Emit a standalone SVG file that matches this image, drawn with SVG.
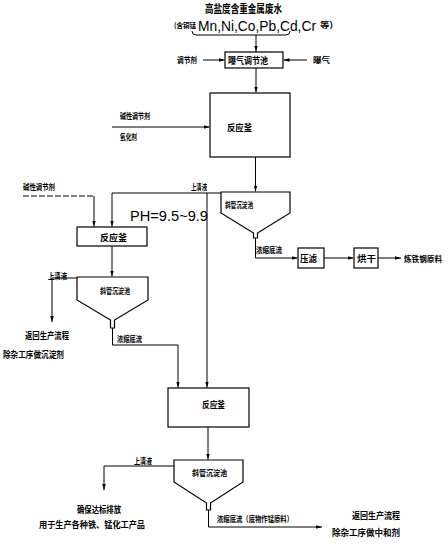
<svg xmlns="http://www.w3.org/2000/svg" width="448" height="551" viewBox="0 0 448 551">
<style>
.l{fill:none;stroke:#000;stroke-width:1}
.b{fill:#fff;stroke:#000;stroke-width:1.2}
.t{font-family:"Noto Sans CJK SC","Noto Sans CJK JP",sans-serif;font-size:9px;font-weight:bold;fill:#000}
.s{font-size:8px}
.p{font-family:"Liberation Sans",Arial,sans-serif;font-size:15px;fill:#000}
</style>
<defs>
<marker id="a" viewBox="0 0 10 6" refX="10" refY="3" markerWidth="6" markerHeight="3.6" orient="auto"><path d="M0,0 L10,3 L0,6 Z"/></marker>
</defs>
<rect width="448" height="551" fill="#fff"/>

<g id="source">
<text class="t" x="205" y="13" textLength="77" lengthAdjust="spacingAndGlyphs" style="font-size:11px">高盐度含重金属废水</text>
<text class="t" x="174" y="28" textLength="22" lengthAdjust="spacingAndGlyphs" style="font-size:7px">(含铜锰</text>
<text class="p" x="198" y="31" textLength="118" lengthAdjust="spacingAndGlyphs" style="font-size:14px">Mn,Ni,Co,Pb,Cd,Cr</text>
<text class="t" x="320" y="28" textLength="13" lengthAdjust="spacingAndGlyphs" style="font-size:8px">等)</text>
</g>
<g id="aeration">
<rect class="b" x="225" y="52" width="58" height="16"/>
<text class="t" x="228" y="63.5" textLength="40" lengthAdjust="spacingAndGlyphs">曝气调节池</text>
</g>
<g id="reactor1">
<rect class="b" x="210" y="93" width="80" height="64"/>
<text class="t" x="227" y="130.5" textLength="25" lengthAdjust="spacingAndGlyphs">反应釜</text>
</g>
<g id="tank1">
<path class="b" d="M221,192 H290 V213 L257.5,233 V238 H253.5 V233 L221,213 Z"/>
<text class="t s" x="225" y="208" textLength="28" lengthAdjust="spacingAndGlyphs">斜管沉淀池</text>
</g>
<g id="press">
<rect class="b" x="298" y="248" width="26" height="20"/>
<text class="t" x="300" y="261.5" textLength="17" lengthAdjust="spacingAndGlyphs">压滤</text>
</g>
<g id="dry">
<rect class="b" x="354" y="248" width="24" height="20"/>
<text class="t" x="357" y="261.5" textLength="19" lengthAdjust="spacingAndGlyphs">烘干</text>
</g>
<g id="product1">
<text class="t" x="404" y="261.5" textLength="38" lengthAdjust="spacingAndGlyphs" style="font-size:8px">炼铁钢原料</text>
</g>
<g id="reactor2">
<rect class="b" x="77" y="227" width="70" height="19"/>
<text class="t" x="100" y="240.5" textLength="27" lengthAdjust="spacingAndGlyphs">反应釜</text>
</g>
<g id="tank2">
<path class="b" d="M77,277 H148 V300 L114.5,320 V328 H110.5 V320 L77,300 Z"/>
<text class="t s" x="100" y="294" textLength="30" lengthAdjust="spacingAndGlyphs">斜管沉淀池</text>
</g>
<g id="return1">
<text class="t" x="25" y="339" textLength="44" lengthAdjust="spacingAndGlyphs">返回生产流程</text>
<text class="t" x="3" y="358" textLength="61" lengthAdjust="spacingAndGlyphs">除杂工序做沉淀剂</text>
</g>
<g id="reactor3">
<rect class="b" x="168" y="388" width="81" height="39"/>
<text class="t" x="202" y="407.5" textLength="23" lengthAdjust="spacingAndGlyphs">反应釜</text>
</g>
<g id="tank3">
<path class="b" d="M174,460 H243 V482 L210.5,503 V510 H206.5 V503 L174,482 Z"/>
<text class="t s" x="192" y="476" textLength="35" lengthAdjust="spacingAndGlyphs">斜管沉淀池</text>
</g>
<g id="discharge">
<text class="t" x="77" y="513" textLength="44" lengthAdjust="spacingAndGlyphs">确保达标排放</text>
<text class="t" x="39" y="527.5" textLength="106" lengthAdjust="spacingAndGlyphs">用于生产各种铁、锰化工产品</text>
</g>
<g id="return2">
<text class="t" x="352" y="518.5" textLength="48" lengthAdjust="spacingAndGlyphs">返回生产流程</text>
<text class="t" x="332" y="535.5" textLength="68" lengthAdjust="spacingAndGlyphs">除杂工序做中和剂</text>
</g>

<g id="connectors">
<path class="l" d="M192,31 Q192,35 196,35 H286 Q290,35 290,31"/>
<path class="l" d="M256,35 V51.5" marker-end="url(#a)"/>
<path class="l" d="M203,60 H224.5" marker-end="url(#a)"/>
<path class="l" d="M307,60 H283.5" marker-end="url(#a)"/>
<path class="l" d="M256,68 V92.5" marker-end="url(#a)"/>
<path class="l" d="M112,127 H209.5" marker-end="url(#a)"/>
<path class="l" d="M255.5,157 V191.5" marker-end="url(#a)"/>
<path class="l" d="M221,193 H112 V226.5" marker-end="url(#a)"/>
<path class="l" d="M207,193 V387.5" marker-end="url(#a)"/>
<path class="l" d="M255.5,238 V258 H297.5" marker-end="url(#a)"/>
<path class="l" d="M324,258 H353.5" marker-end="url(#a)"/>
<path class="l" d="M378,258 H401" marker-end="url(#a)"/>
<path class="l" d="M23,196 H94" stroke-dasharray="6 2"/>
<path class="l" d="M94,196 V226.5" marker-end="url(#a)"/>
<path class="l" d="M112,246 V276.5" marker-end="url(#a)"/>
<path class="l" d="M77,278 H52 V322" marker-end="url(#a)"/>
<path class="l" d="M112.5,328 V345 H178 V387.5" marker-end="url(#a)"/>
<path class="l" d="M208,427 V459.5" marker-end="url(#a)"/>
<path class="l" d="M174,466 H104 V490" marker-end="url(#a)"/>
<path class="l" d="M208.5,510 V527 H322" marker-end="url(#a)"/>
</g>

<g id="labels">
<text class="t s" x="177" y="63" textLength="20" lengthAdjust="spacingAndGlyphs">调节剂</text>
<text class="t s" x="313" y="63" textLength="17" lengthAdjust="spacingAndGlyphs">曝气</text>
<text class="t s" x="120" y="119" textLength="30" lengthAdjust="spacingAndGlyphs">碱性调节剂</text>
<text class="t s" x="120" y="139.5" textLength="17" lengthAdjust="spacingAndGlyphs">氧化剂</text>
<text class="t s" x="191" y="190" textLength="16" lengthAdjust="spacingAndGlyphs">上清液</text>
<text class="t s" x="256" y="253" textLength="26" lengthAdjust="spacingAndGlyphs">浓缩底流</text>
<text class="t s" x="23" y="190" textLength="32" lengthAdjust="spacingAndGlyphs">碱性调节剂</text>
<text class="p" x="130" y="221" textLength="78" lengthAdjust="spacingAndGlyphs" style="font-size:14px">PH=9.5~9.9</text>
<text class="t s" x="48" y="279" textLength="19" lengthAdjust="spacingAndGlyphs">上清液</text>
<text class="t s" x="117" y="342" textLength="25" lengthAdjust="spacingAndGlyphs">浓缩底流</text>
<text class="t s" x="134" y="464" textLength="18" lengthAdjust="spacingAndGlyphs">上清液</text>
<text class="t s" x="217" y="522" textLength="76" lengthAdjust="spacingAndGlyphs">浓缩底流（底物作锰原料）</text>
</g>
</svg>
